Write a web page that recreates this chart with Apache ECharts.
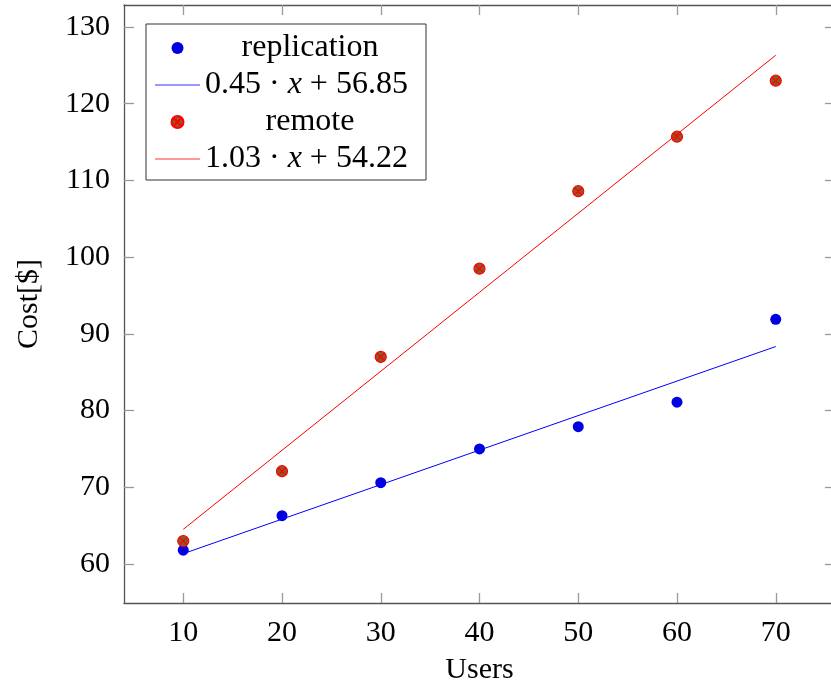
<!DOCTYPE html>
<html>
<head>
<meta charset="utf-8">
<script src="https://cdn.jsdelivr.net/npm/echarts@6/dist/echarts.min.js"></script>
<style>html,body{margin:0;padding:0;background:#fff}#c{width:831px;height:685px}</style>
</head>
<body>
<div id="c"></div>
<script>
const users = [10, 20, 30, 40, 50, 60, 70];
const replication = [61.8, 66.3, 70.6, 75.0, 77.9, 81.1, 91.9];
const remote = [63.0, 72.1, 87.0, 98.5, 108.6, 115.7, 123.0];
const fitX = [10, 70];
const replicationFit = [61.35, 88.35];
const remoteFit = [64.52, 126.32];
const xTicks = [10, 20, 30, 40, 50, 60, 70];
const yTicks = [60, 70, 80, 90, 100, 110, 120, 130];
const names = ['replication', '0.45·x+56.85', 'remote', '1.03·x+54.22'];

const FONT = 'Liberation Serif';
const FS = 30;
const LFS = 32;
const pair = (xs, ys) => xs.map((x, i) => [x, ys[i]]);
const otimes = 'path://M0,10 A10,10 0 1,1 20,10 A10,10 0 1,1 0,10 Z M2.93,2.93 L17.07,17.07 M17.07,2.93 L2.93,17.07';
const lineIcon = 'path://M0,0 L45,0 L45,1 L0,1 Z';

const frame = {show: true, lineStyle: {color: '#555', width: 1.3}};
const tick = {show: true, inside: true, length: 10, lineStyle: {color: '#999', width: 1.3}};

function xAx(pos, labels) {
  return {
    type: 'value', position: pos, min: 4, max: 76,
    axisLine: Object.assign({onZero: false}, frame),
    axisTick: Object.assign({}, tick, {customValues: xTicks}),
    axisLabel: {show: labels, customValues: xTicks, margin: 15, fontFamily: FONT, fontSize: FS, color: '#000'},
    splitLine: {show: false},
    name: labels ? 'Users' : '', nameLocation: 'middle', nameGap: 52,
    nameTextStyle: {fontFamily: FONT, fontSize: FS, color: '#000'}
  };
}
function yAx(pos, labels) {
  return {
    type: 'value', position: pos, min: 54.92, max: 132.87,
    axisLine: Object.assign({onZero: false}, frame),
    axisTick: Object.assign({}, tick, {customValues: yTicks}),
    axisLabel: {show: labels, customValues: yTicks, margin: 14, fontFamily: FONT, fontSize: FS, color: '#000'},
    splitLine: {show: false},
    name: labels ? 'Cost[$]' : '', nameLocation: 'middle', nameGap: 80,
    nameTextStyle: {fontFamily: FONT, fontSize: FS, color: '#000'}
  };
}

const chart = echarts.init(document.getElementById('c'), null, {renderer: 'canvas'});
chart.setOption({
  animation: false,
  backgroundColor: '#fff',
  grid: {left: 124, top: 5, width: 711, height: 598, containLabel: false, outerBoundsMode: 'none'},
  xAxis: [xAx('bottom', true), xAx('top', false)],
  yAxis: [yAx('left', true), yAx('right', false)],
  legend: {
    orient: 'vertical', left: 146, top: 24,
    padding: [8, 11, 5, 9],
    itemWidth: 45, itemHeight: 12, itemGap: 5,
    borderColor: '#333', borderWidth: 1, backgroundColor: '#fff',
    data: [
      {name: names[0]},
      {name: names[1], icon: lineIcon},
      {name: names[2]},
      {name: names[3], icon: lineIcon}
    ],
    formatter: function (n) {
      if (n === names[0] || n === names[2]) return '{c|' + n + '}';
      if (n === names[1]) return '{t|0.45 · }{i|x}{t| + 56.85}';
      return '{t|1.03 · }{i|x}{t| + 54.22}';
    },
    textStyle: {
      fontFamily: FONT, fontSize: LFS, color: '#000', lineHeight: 30,
      rich: {
        c: {width: 210, align: 'center', fontFamily: FONT, fontSize: LFS, lineHeight: 30},
        t: {fontFamily: FONT, fontSize: LFS, lineHeight: 30},
        i: {fontFamily: FONT, fontSize: LFS, fontStyle: 'italic', lineHeight: 30}
      }
    }
  },
  series: [
    {name: names[0], type: 'scatter', data: pair(users, replication), symbol: 'circle', symbolSize: 11,
     itemStyle: {color: '#0000e0', opacity: 1}},
    {name: names[1], type: 'line', data: pair(fitX, replicationFit), symbol: 'none',
     lineStyle: {color: '#0000ff', width: 1}, itemStyle: {color: '#3333ff'}},
    {name: names[2], type: 'scatter', data: pair(users, remote), symbol: otimes, symbolSize: 11,
     itemStyle: {color: '#8b5a2b', borderColor: '#ff0000', borderWidth: 1.2, opacity: 1}},
    {name: names[3], type: 'line', data: pair(fitX, remoteFit), symbol: 'none',
     lineStyle: {color: '#ff0000', width: 1}, itemStyle: {color: '#ff3333'}}
  ]
});
</script>
</body>
</html>
